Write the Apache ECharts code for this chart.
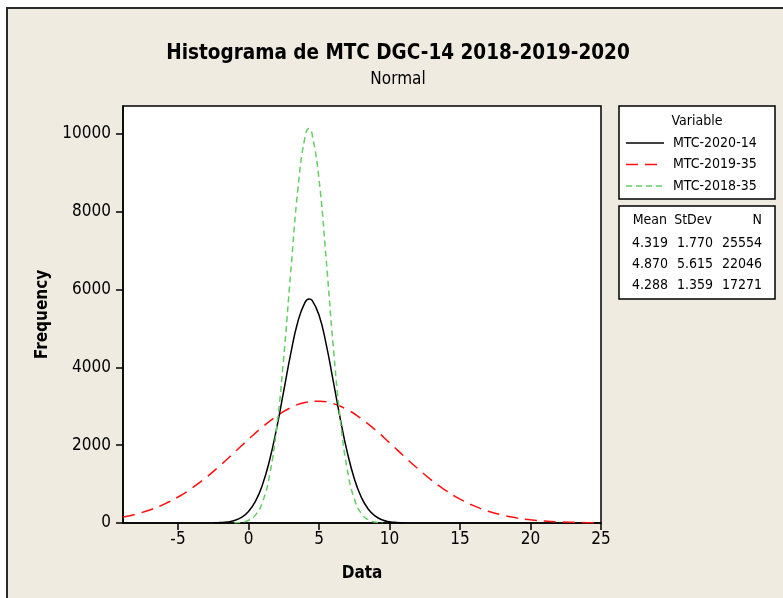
<!DOCTYPE html>
<html>
<head>
<meta charset="utf-8">
<script src="https://cdn.jsdelivr.net/npm/echarts@6/dist/echarts.min.js"></script>
<style>
html,body{margin:0;padding:0;background:#fff;overflow:hidden;}
#frame{position:absolute;left:6px;top:7px;width:800px;height:620px;background:#EFEBE1;border-left:2px solid #2a2a2a;border-top:2px solid #2a2a2a;}
#chart{position:absolute;left:0;top:0;width:783px;height:598px;}
</style>
</head>
<body>
<div id="frame"></div>
<div id="chart"></div>
<script>
// Values
const seriesNames = ['MTC-2020-14', 'MTC-2019-35', 'MTC-2018-35'];
const xTicks = [-5, 0, 5, 10, 15, 20, 25];
const yTicks = [0, 2000, 4000, 6000, 8000, 10000];

const x2020 = [-2.5, -2, -1.5, -1, -0.5, 0, 0.5, 1, 1.5, 2, 2.5, 3, 3.5, 4, 4.3, 4.5, 5, 5.5, 6, 6.5, 7, 7.5, 8, 8.5, 9, 9.5, 10, 10.5, 11];
const y2020 = [4, 10, 26, 63, 142, 293, 561, 993, 1620, 2441, 3396, 4362, 5175, 5666, 5759, 5729, 5348, 4610, 3668, 2696, 1829, 1146, 662, 353, 175, 79, 33, 13, 5];

const x2019 = [-8.9, -8, -7, -6, -5, -4, -3, -2, -1, 0, 1, 2, 3, 4, 5, 6, 7, 8, 9, 10, 11, 12, 13, 14, 15, 16, 17, 18, 19, 20, 21, 22, 23, 24, 25];
const y2019 = [155, 227, 335, 481, 668, 900, 1173, 1482, 1814, 2151, 2470, 2749, 2964, 3095, 3132, 3070, 2915, 2682, 2390, 2064, 1726, 1399, 1098, 835, 615, 439, 304, 204, 132, 83, 51, 30, 17, 9, 5];

const x2018 = [-1, -0.5, 0, 0.5, 1, 1.5, 2, 2.5, 3, 3.5, 4, 4.3, 4.5, 5, 5.5, 6, 6.5, 7, 7.5, 8, 8.5, 9, 9.5];
const y2018 = [5, 21, 70, 208, 543, 1236, 2458, 4267, 6471, 8571, 9915, 10140, 10017, 8839, 6813, 4586, 2696, 1384, 621, 243, 83, 25, 7];

const statsMean = ['4.319', '4.870', '4.288'];
const statsStDev = ['1.770', '5.615', '1.359'];
const statsN = ['25554', '22046', '17271'];

const pair = (xs, ys) => xs.map((x, i) => [x, ys[i]]);
const FONT = '"DejaVu Sans Condensed", "Liberation Sans Narrow", "DejaVu Sans", sans-serif';

const chart = echarts.init(document.getElementById('chart'), null, {renderer: 'canvas'});

const legendColors = ['#000000', '#FF1010', '#66CC66'];
const legendDash = ['solid', [12, 7], [6, 4]];
const LF = '14px ' + FONT;
const graphics = [
  {type: 'rect', shape: {x: 619, y: 106, width: 156, height: 93}, style: {fill: '#fff', stroke: '#000', lineWidth: 1.5}, z: 10},
  {type: 'text', x: 697, y: 121, style: {text: 'Variable', fill: '#000', font: LF, textAlign: 'center', textVerticalAlign: 'middle'}, z: 11},
  {type: 'rect', shape: {x: 619, y: 206, width: 156, height: 93}, style: {fill: '#fff', stroke: '#000', lineWidth: 1.5}, z: 10},
  {type: 'text', x: 667, y: 220, style: {text: 'Mean', fill: '#000', font: LF, textAlign: 'right', textVerticalAlign: 'middle'}, z: 11},
  {type: 'text', x: 712, y: 220, style: {text: 'StDev', fill: '#000', font: LF, textAlign: 'right', textVerticalAlign: 'middle'}, z: 11},
  {type: 'text', x: 762, y: 220, style: {text: 'N', fill: '#000', font: LF, textAlign: 'right', textVerticalAlign: 'middle'}, z: 11}
];
seriesNames.forEach((n, i) => {
  const y = 143 + i * 21.5;
  graphics.push({type: 'line', shape: {x1: 626, y1: y, x2: 664, y2: y}, style: {stroke: legendColors[i], lineWidth: 1.5, lineDash: legendDash[i]}, z: 11});
  graphics.push({type: 'text', x: 673, y: y, style: {text: n, fill: '#000', font: LF, textVerticalAlign: 'middle'}, z: 11});
  const ry = 243 + i * 21;
  graphics.push({type: 'text', x: 668, y: ry, style: {text: statsMean[i], fill: '#000', font: LF, textAlign: 'right', textVerticalAlign: 'middle'}, z: 11});
  graphics.push({type: 'text', x: 713, y: ry, style: {text: statsStDev[i], fill: '#000', font: LF, textAlign: 'right', textVerticalAlign: 'middle'}, z: 11});
  graphics.push({type: 'text', x: 762, y: ry, style: {text: statsN[i], fill: '#000', font: LF, textAlign: 'right', textVerticalAlign: 'middle'}, z: 11});
});

chart.setOption({
  backgroundColor: 'transparent',
  animation: false,
  title: [
    {text: 'Histograma de MTC DGC-14 2018-2019-2020', left: 393, top: 38, textAlign: 'center',
     textStyle: {fontFamily: FONT, fontWeight: 'bold', fontSize: 20.5, color: '#000'}},
    {text: 'Normal', left: 393, top: 66, textAlign: 'center',
     textStyle: {fontFamily: FONT, fontWeight: 'normal', fontSize: 17, color: '#000'}}
  ],
  grid: {left: 123, top: 106, right: 182, bottom: 75, show: true, backgroundColor: '#fff', borderColor: '#000', borderWidth: 1.5},
  xAxis: {
    type: 'value', min: -8.9, max: 25,
    name: 'Data', nameLocation: 'middle', nameGap: 42,
    nameTextStyle: {fontFamily: FONT, fontWeight: 'bold', fontSize: 17, color: '#000'},
    axisLine: {show: true, onZero: false, lineStyle: {color: '#000', width: 1.5}},
    axisTick: {show: true, length: 7, inside: false, customValues: xTicks, lineStyle: {color: '#000', width: 1.5}},
    axisLabel: {customValues: xTicks, formatter: v => String(v), fontFamily: FONT, fontSize: 17, color: '#000', margin: 8},
    splitLine: {show: false}
  },
  yAxis: {
    type: 'value', min: 0, max: 10720,
    name: 'Frequency', nameLocation: 'middle', nameGap: 69, nameRotate: 90,
    nameTextStyle: {fontFamily: FONT, fontWeight: 'bold', fontSize: 17, color: '#000'},
    axisLine: {show: true, onZero: false, lineStyle: {color: '#000', width: 1.5}},
    axisTick: {show: true, length: 7, inside: false, customValues: yTicks, lineStyle: {color: '#000', width: 1.5}},
    axisLabel: {customValues: yTicks, formatter: v => String(v), fontFamily: FONT, fontSize: 17, color: '#000', margin: 12},
    splitLine: {show: false}
  },
  series: [
    {name: seriesNames[0], type: 'line', data: pair(x2020, y2020), smooth: true, symbol: 'none',
     lineStyle: {color: '#000000', width: 1.5, type: 'solid'}, z: 3},
    {name: seriesNames[1], type: 'line', data: pair(x2019, y2019), smooth: true, symbol: 'none',
     lineStyle: {color: '#FF1010', width: 1.5, type: [12, 7]}, z: 2},
    {name: seriesNames[2], type: 'line', data: pair(x2018, y2018), smooth: true, symbol: 'none',
     lineStyle: {color: '#66CC66', width: 1.5, type: [6, 4]}, z: 4}
  ],
  graphic: graphics
});
</script>
</body>
</html>
